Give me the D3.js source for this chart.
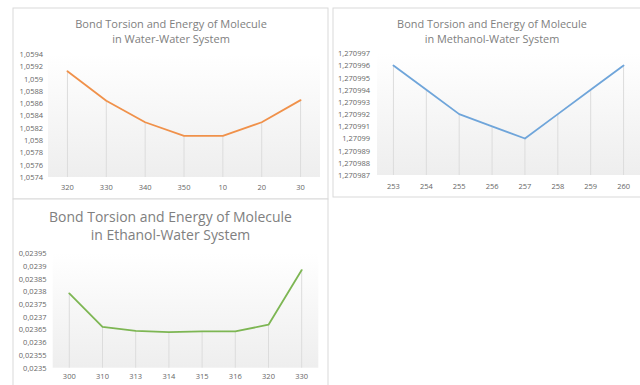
<!DOCTYPE html>
<html><head><meta charset="utf-8">
<script src="https://cdn.jsdelivr.net/npm/d3@7"></script>
<style>body{margin:0;background:#fff;}svg{display:block;font-family:"Open Sans",sans-serif;}</style>
</head><body><svg id="c" width="640" height="385"></svg>
<script>
// ---- data ----
const waterCats = ["320","330","340","350","10","20","30"];
const waterVals = [1.05912,1.05864,1.05829,1.05807,1.05807,1.05829,1.05865];
const waterTicks = [1.0574,1.0576,1.0578,1.058,1.0582,1.0584,1.0586,1.0588,1.059,1.0592,1.0594];

const methCats = ["253","254","255","256","257","258","259","260"];
const methVals = [1.270996,1.270994,1.270992,1.270991,1.27099,1.270992,1.270994,1.270996];
const methTicks = [1.270987,1.270988,1.270989,1.27099,1.270991,1.270992,1.270993,1.270994,1.270995,1.270996,1.270997];

const ethCats = ["300","310","313","314","315","316","320","330"];
const ethVals = [0.023792,0.023661,0.023645,0.02364,0.023643,0.023643,0.023669,0.023884];
const ethTicks = [0.0235,0.02355,0.0236,0.02365,0.0237,0.02375,0.0238,0.02385,0.0239,0.02395];

const titles = [
  ["Bond Torsion and Energy of Molecule","in Water-Water System"],
  ["Bond Torsion and Energy of Molecule","in Methanol-Water System"],
  ["Bond Torsion and Energy of Molecule","in Ethanol-Water System"]
];

const loc = d3.formatLocale({decimal:",",thousands:".",grouping:[3],currency:["",""]});
const svg = d3.select("#c");

const defs = svg.append("defs");
const grad = defs.append("linearGradient").attr("id","pg").attr("x1",0).attr("y1",0).attr("x2",0).attr("y2",1);
grad.append("stop").attr("offset","0%").attr("stop-color","#ffffff");
grad.append("stop").attr("offset","100%").attr("stop-color","#eeeeee");

function panel(cfg){
  const g = svg.append("g");
  g.append("rect").attr("x",cfg.box[0]).attr("y",cfg.box[1]).attr("width",cfg.box[2]).attr("height",cfg.box[3])
    .attr("fill","#fff").attr("stroke","#d9d9d9").attr("stroke-width",1);
  // title
  cfg.title.forEach((t,i)=>{
    const tx = g.append("text").attr("x",cfg.tx).attr("y",cfg.ty[i]).attr("text-anchor","middle")
      .attr("dominant-baseline","central").attr("fill","#808080").attr("font-size",12).text(t);
    if(i===0){
      const w = tx.node().getComputedTextLength();
      cfg.tfs = 12*cfg.tw/w;
    }
    tx.attr("font-size",cfg.tfs);
  });
  const x = d3.scaleBand().domain(cfg.cats).range([cfg.left,cfg.right]);
  const y = d3.scaleLinear().domain([cfg.ticks[0],cfg.ticks[cfg.ticks.length-1]]).range([cfg.bottom,cfg.top]);
  g.append("rect").attr("x",cfg.left).attr("y",cfg.top).attr("width",cfg.right-cfg.left).attr("height",cfg.bottom-cfg.top)
    .attr("fill","url(#pg)");
  const fmt = loc.format(cfg.fmt);
  // y axis
  const ya = g.append("g").attr("transform",`translate(${cfg.ylx},0)`)
    .call(d3.axisLeft(y).tickValues(cfg.ticks).tickFormat(fmt).tickSize(0).tickPadding(0));
  ya.select(".domain").remove();
  ya.selectAll("text").attr("fill","#666666").attr("font-size",7.5).attr("font-family","'Open Sans',sans-serif");
  // x axis
  const xa = g.append("g").attr("transform",`translate(0,${cfg.bottom})`)
    .call(d3.axisBottom(x).tickSize(0).tickPadding(cfg.xpad));
  xa.select(".domain").remove();
  xa.selectAll("text").attr("fill","#666666").attr("font-size",7.5).attr("font-family","'Open Sans',sans-serif");
  const cx = c => x(c)+x.bandwidth()/2;
  // drop lines
  g.selectAll(".drop").data(cfg.cats).enter().append("line")
    .attr("x1",(c)=>cx(c)).attr("x2",(c)=>cx(c))
    .attr("y1",(c,i)=>y(cfg.vals[i])).attr("y2",cfg.bottom)
    .attr("stroke","#dcdcdc").attr("stroke-width",1);
  // line
  const line = d3.line().x((d,i)=>cx(cfg.cats[i])).y(d=>y(d));
  g.append("path").datum(cfg.vals).attr("d",line).attr("fill","none")
    .attr("stroke",cfg.color).attr("stroke-width",1.8).attr("stroke-linejoin","round").attr("stroke-linecap","round");
}

panel({box:[13,8,315,191],title:titles[0],tx:171,ty:[23,38],tw:192,
  cats:waterCats,vals:waterVals,ticks:waterTicks,fmt:".4~f",
  left:48,right:320,top:54,bottom:177,ylx:43,xpad:8,color:"#F0914A"});
panel({box:[333,8,315,189],title:titles[1],tx:492,ty:[23,38],tw:190,
  cats:methCats,vals:methVals,ticks:methTicks,fmt:".6~f",
  left:377,right:640,top:53.3,bottom:175,ylx:370,xpad:9,color:"#6FA5DA"});
panel({box:[13,199,315,200],title:titles[2],tx:170.5,ty:[216,234],tw:243,
  cats:ethCats,vals:ethVals,ticks:ethTicks,fmt:".5~f",
  left:52.7,right:318.3,top:253.3,bottom:367.7,ylx:46.5,xpad:6,color:"#7DB653"});
</script></body></html>
